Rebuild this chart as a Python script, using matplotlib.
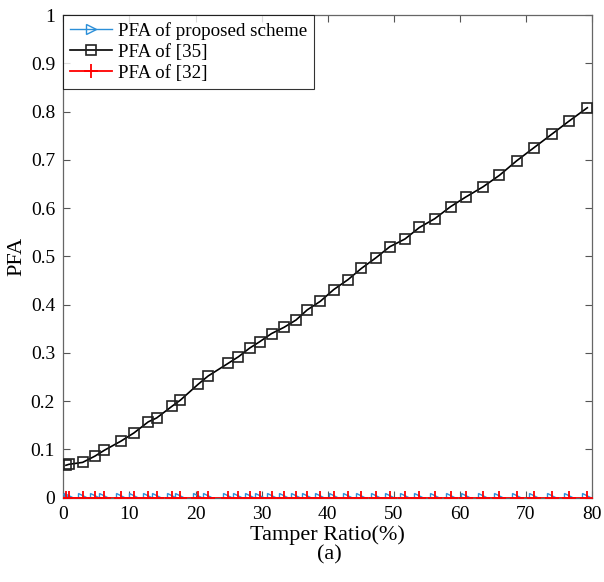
import matplotlib
matplotlib.use("Agg")
import matplotlib.pyplot as plt

tamper_ratio = [0.38, 0.83, 2.9, 4.77, 6.18, 8.7, 10.67, 12.84, 14.1, 16.5, 17.7, 20.4,
                21.9, 24.9, 26.5, 28.2, 29.7, 31.5, 33.4, 35.2, 36.9, 38.9, 40.9, 43.1,
                45.1, 47.3, 49.4, 51.7, 53.9, 56.2, 58.6, 60.9, 63.5, 66.0, 68.6, 71.2,
                73.9, 76.5, 79.3]
pfa_35 = [0.067, 0.069, 0.073, 0.086, 0.098, 0.117, 0.134, 0.157, 0.165, 0.19, 0.202, 0.235,
          0.252, 0.278, 0.292, 0.310, 0.323, 0.340, 0.353, 0.368, 0.389, 0.407, 0.431, 0.452,
          0.475, 0.497, 0.520, 0.536, 0.560, 0.578, 0.603, 0.623, 0.644, 0.668, 0.698, 0.725,
          0.753, 0.780, 0.808]
pfa_proposed = [0.0] * len(tamper_ratio)
pfa_32 = [0.0] * len(tamper_ratio)

labels = ["PFA of proposed scheme", "PFA of [35]", "PFA of [32]"]
x_ticks = list(range(0, 81, 10))
y_ticks = [0, 0.1, 0.2, 0.3, 0.4, 0.5, 0.6, 0.7, 0.8, 0.9, 1]
y_ticklabels = ["0", "0.1", "0.2", "0.3", "0.4", "0.5", "0.6", "0.7", "0.8", "0.9", "1"]

plt.rcParams['font.family'] = ['Liberation Serif', 'DejaVu Serif']
fig = plt.figure(figsize=(6.04, 5.82), dpi=100)
ax = fig.add_axes([0.105, 0.145, 0.875, 0.829])

ax.plot(tamper_ratio, pfa_proposed, color='#2b8fd8', lw=1.0, marker='>', ms=6.5,
        mfc='none', mec='#2b8fd8', mew=1.0, label=labels[0], zorder=3)
ax.plot(tamper_ratio, pfa_35, color='black', lw=1.2, marker='s', ms=7,
        mfc='none', mec='#222222', mew=1.2, label=labels[1], zorder=4)
ax.plot(tamper_ratio, pfa_32, color='red', lw=1.3, marker='+', ms=10,
        mew=1.3, label=labels[2], zorder=5)

ax.set_xlim(0, 80)
ax.set_ylim(0, 1)
ax.set_xticks(x_ticks)
ax.set_yticks(y_ticks)
ax.set_yticklabels(y_ticklabels)
ax.tick_params(direction='in', length=5, width=0.8, colors='#555555',
               labelcolor='black', labelsize=14, top=True, right=True, pad=6)
for s in ax.spines.values():
    s.set_color('#666666')
    s.set_linewidth(0.9)

ax.set_xlabel("Tamper Ratio(%)", fontsize=16, labelpad=2)
fig.text(0.545, 0.047, "(a)", fontsize=16, ha='center', va='center')
ax.set_ylabel("PFA", fontsize=16, labelpad=3)

leg = ax.legend(loc='upper left', fontsize=13.7, frameon=True, fancybox=False,
                borderaxespad=0.0, handlelength=2.2, handletextpad=0.3,
                borderpad=0.35, labelspacing=0.2)
leg.get_frame().set_edgecolor('black')
leg.get_frame().set_linewidth(0.8)

fig.savefig("out.png", dpi=100)
